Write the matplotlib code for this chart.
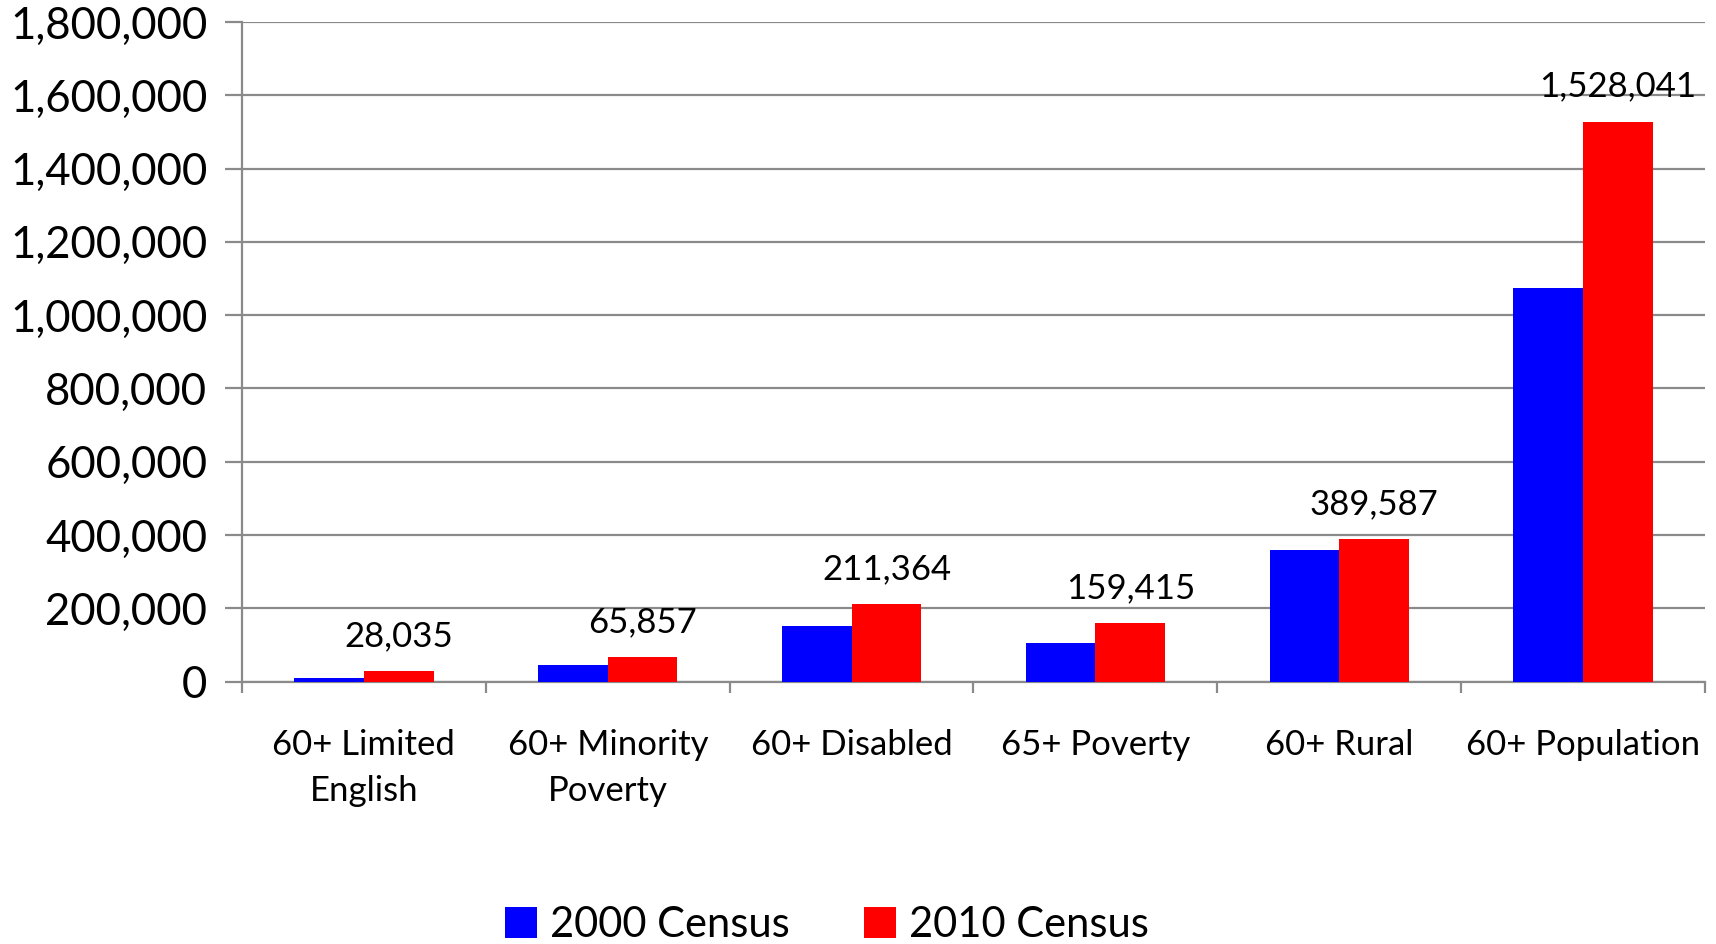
import numpy as np
import matplotlib.pyplot as plt
from matplotlib.ticker import FuncFormatter, MultipleLocator, FixedLocator

plt.rcParams['font.family'] = ['Lato', 'DejaVu Sans']

categories = ['60+ Limited\nEnglish', '60+ Minority\nPoverty', '60+ Disabled',
              '65+ Poverty', '60+ Rural', '60+ Population']
census_2000 = [9000, 45000, 152000, 105000, 360000, 1073000]
census_2010 = [28035, 65857, 211364, 159415, 389587, 1528041]

grid_col = '#8a8a8a'
x = np.arange(len(categories))
w = 0.286

fig = plt.figure(figsize=(17.16, 9.44), dpi=100)
ax = fig.add_axes([242 / 1716, 1 - 681.5 / 944, (1705 - 242) / 1716, (681.5 - 22) / 944])

ax.bar(x - w / 2, census_2000, w, color='#0000ff', label='2000 Census', zorder=3)
ax.bar(x + w / 2, census_2010, w, color='#ff0000', label='2010 Census', zorder=3)

# value labels over the 2010 bars
for xi, v in zip(x, census_2010):
    ax.annotate(f'{v:,}', (xi + w / 2, v), xytext=(0, 18), textcoords='offset points',
                ha='center', va='baseline', fontsize=25)

ax.set_xlim(-0.5, len(categories) - 0.5)
ax.set_ylim(0, 1800000)
ax.yaxis.set_major_locator(MultipleLocator(200000))
ax.yaxis.set_major_formatter(FuncFormatter(lambda v, p: f'{int(v):,}'))
ax.grid(axis='y', color=grid_col, linewidth=1.6, zorder=0)

# category boundaries get ticks, labels sit between them
ax.xaxis.set_major_locator(FixedLocator(np.arange(-0.5, len(categories), 1.0)))
ax.xaxis.set_major_formatter(FuncFormatter(lambda v, p: ''))
ax.xaxis.set_minor_locator(FixedLocator(x))
ax.set_xticklabels(categories, minor=True, fontsize=25, linespacing=1.55)
ax.tick_params(axis='x', which='minor', length=0, pad=34)
ax.tick_params(axis='x', which='major', length=8, width=1.6, color=grid_col)
ax.tick_params(axis='y', length=12, width=1.6, color=grid_col, labelsize=31.5, pad=13)

for s in ['top', 'right']:
    ax.spines[s].set_visible(False)
for s in ['left', 'bottom']:
    ax.spines[s].set_color(grid_col)
    ax.spines[s].set_linewidth(1.6)

fig.legend(loc='lower center', bbox_to_anchor=(0.482, -0.022), ncol=2, frameon=False,
           fontsize=30, handlelength=0.76, handleheight=0.74, handletextpad=0.33,
           columnspacing=1.77, borderpad=0)

fig.savefig('out.png', dpi=100)
